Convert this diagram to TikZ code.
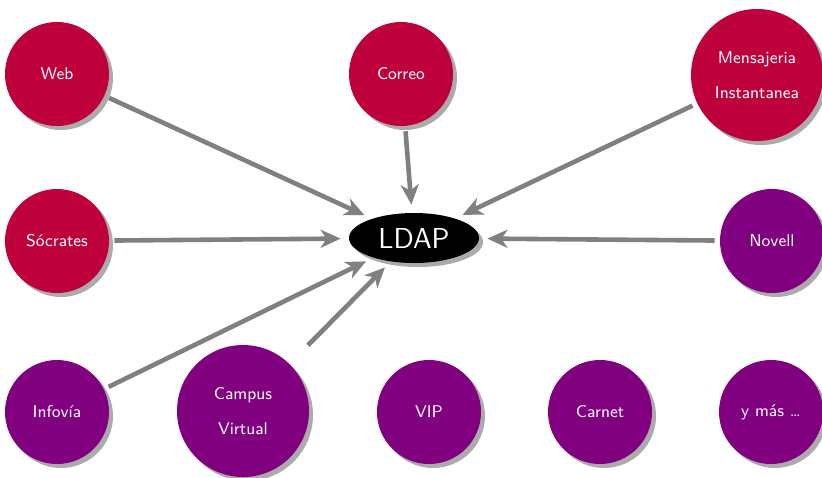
\documentclass[tikz,border=0pt]{standalone}
\usepackage{tikz}
\usetikzlibrary{arrows.meta,shapes.geometric,shadows}
\renewcommand{\familydefault}{\sfdefault}
\definecolor{servred}{HTML}{BE003C}
\definecolor{servpurple}{HTML}{800080}
\definecolor{linkgray}{HTML}{808080}

\begin{document}
\begin{tikzpicture}[x=0.5pt,y=-0.5pt,font=\sffamily\fontsize{8.5}{10}\selectfont,>={Stealth[length=10pt,width=9pt,inset=3pt]},
 serv/.style={circle,fill=servred,text=white,align=center,minimum size=52pt,inner sep=0pt,
   drop shadow={shadow xshift=2pt,shadow yshift=-2pt,fill=black!60,opacity=0.55}},
 big/.style={serv,minimum size=66pt},
 other/.style={serv,fill=servpurple},
 link/.style={->,draw=linkgray,line width=2.3pt,shorten <=2.5pt,shorten >=4pt}]
\useasboundingbox (0,0) rectangle (822,477);
\node[ellipse,fill=black,text=white,minimum width=65pt,minimum height=25pt,inner sep=0pt,
  drop shadow={shadow xshift=2pt,shadow yshift=-2pt,fill=black!60,opacity=0.55},font=\sffamily\Large] (ldap) at (414,238) {LDAP};
\node[serv] (web) at (57,74) {Web};
\node[serv] (correo) at (401,74) {Correo};
\node[big] (mens) at (757,75) {Mensajeria\\[7.5pt]Instantanea};
\node[serv] (socrates) at (57,241) {S\'ocrates};
\node[other] (novell) at (772,241) {Novell};
\node[other] (infovia) at (57,412) {Infov\'{\i}a};
\node[other,minimum size=66pt] (campus) at (243,411) {Campus\\[7.5pt]Virtual};
\node[other] (vip) at (429,412) {VIP};
\node[other] (carnet) at (600,412) {Carnet};
\node[other] (mas) at (771,412) {y m\'as \dots};
\draw[link] (web)--(ldap);
\draw[link] (correo)--(ldap);
\draw[link] (mens)--(ldap);
\draw[link] (socrates)--(ldap);
\draw[link] (novell)--(ldap);
\draw[link] (infovia)--(ldap);
\draw[link,shorten <=13pt] (campus)--(ldap);
\end{tikzpicture}
\end{document}
